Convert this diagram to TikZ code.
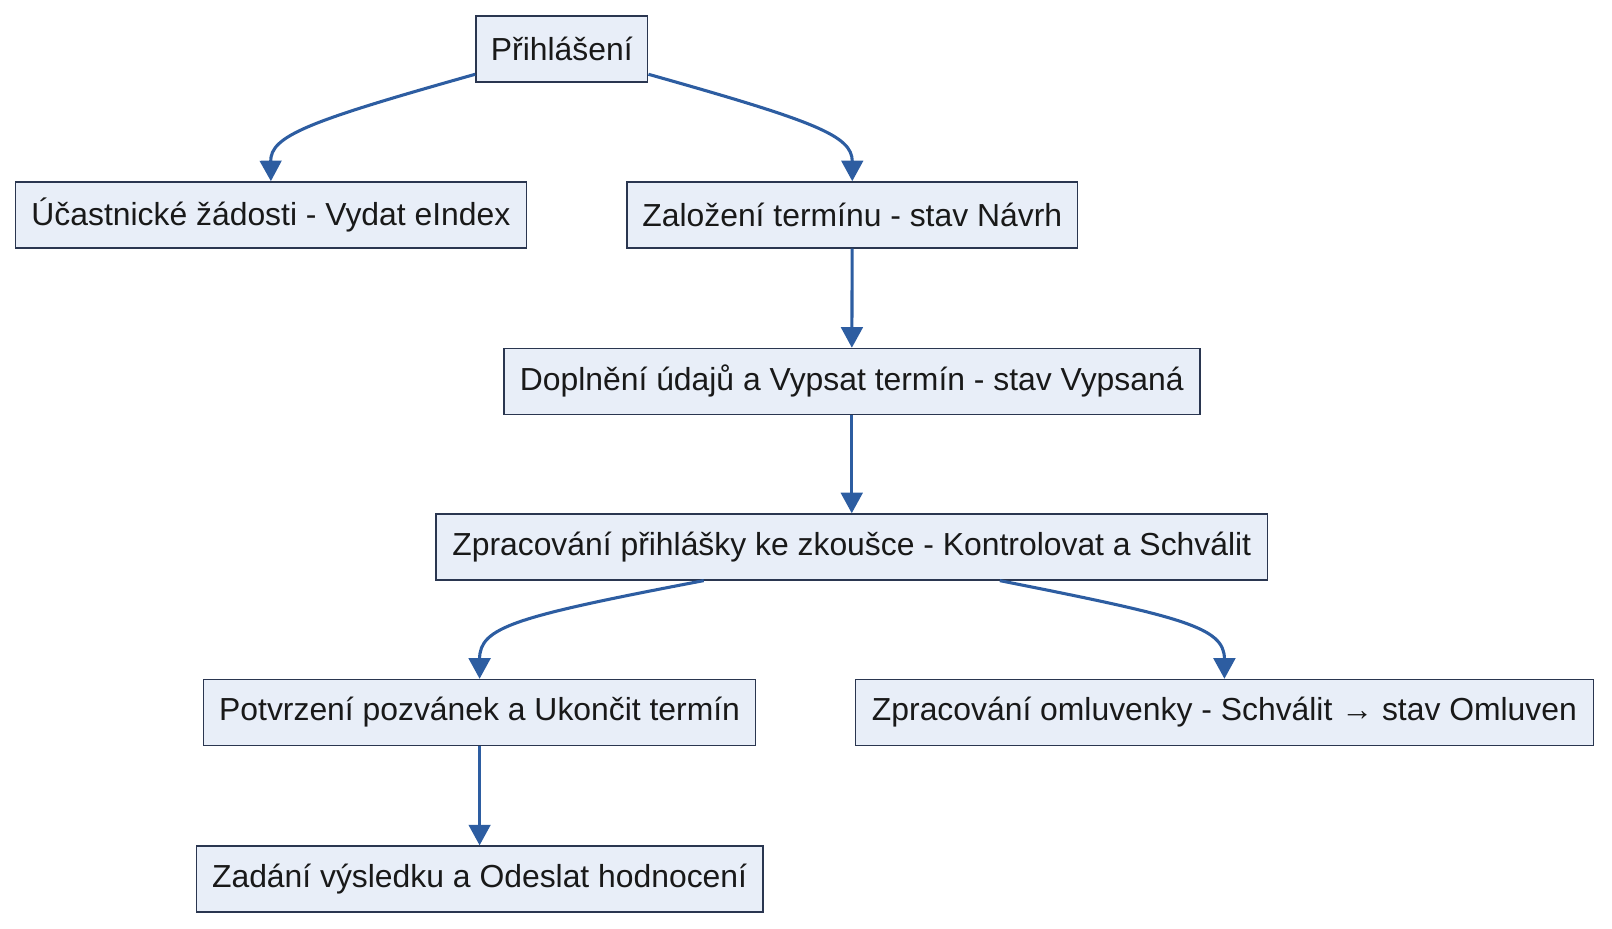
\documentclass[tikz,border=0pt]{standalone}
\usepackage{fontspec}
\setmainfont{Liberation Sans}
\usetikzlibrary{arrows.meta,calc}
\definecolor{boxfill}{HTML}{E8EEF8}
\definecolor{boxdraw}{HTML}{2A3650}
\definecolor{arr}{HTML}{2D5DA1}
\begin{document}
\begin{tikzpicture}[x=1pt,y=-1pt,
  box/.style={draw=boxdraw,fill=boxfill,line width=1.5pt,minimum height=64pt,inner sep=0pt,font=\fontsize{31}{36}\selectfont,text=black!90},
  ar/.style={draw=arr,line width=3pt,-{Triangle[length=20pt,width=21pt]}}]
\useasboundingbox (0,0) rectangle (1568,903);
\node[box,minimum width=167pt] (p) at (546.5,47.5) {Přihlášení};
\node[box,minimum width=497pt] (u) at (263.5,209) {Účastnické žádosti - Vydat eIndex};
\node[box,minimum width=438pt] (z) at (829,209) {Založení termínu - stav Návrh};
\node[box,minimum width=677pt] (d) at (828.5,371) {Doplnění údajů a Vypsat termín - stav Vypsaná};
\node[box,minimum width=809pt] (s) at (828.5,532) {Zpracování přihlášky ke zkoušce - Kontrolovat a Schválit};
\node[box,minimum width=537pt] (po) at (466.5,693) {Potvrzení pozvánek a Ukončit termín};
\node[box,minimum width=718pt] (o) at (1191,693) {Zpracování omluvenky - Schválit → stav Omluven};
\node[box,minimum width=551pt] (za) at (466.5,855) {Zadání výsledku a Odeslat hodnocení};
\draw[ar] ($(p.south west)+(0,-8)$) .. controls (300,118) and (263,132) .. (u.north);
\draw[ar] ($(p.south east)+(0,-8)$) .. controls (793,118) and (829,132) .. (z.north);
\draw[ar] (z) -- (d);
\draw[ar] (d) -- (s);
\draw[ar] ($(s.south)+(-144,0)$) .. controls (500,600) and (466.5,610) .. (po.north);
\draw[ar] ($(s.south)+(144,0)$) .. controls (1150,600) and (1191,610) .. (o.north);
\draw[ar] (po) -- (za);
\end{tikzpicture}
\end{document}
